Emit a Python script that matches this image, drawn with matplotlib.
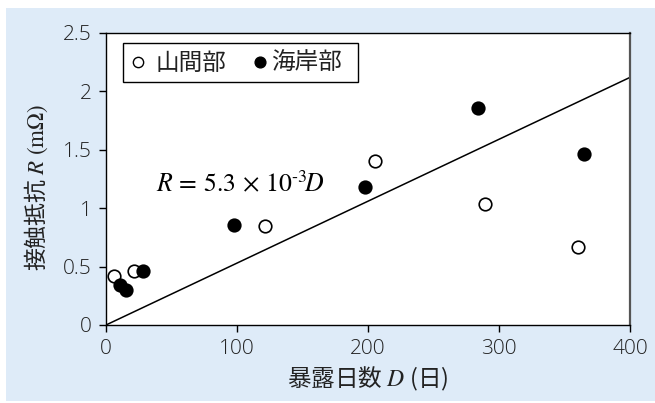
import matplotlib
matplotlib.use("Agg")
import matplotlib.pyplot as plt
from matplotlib.patches import Rectangle

plt.rcParams['mathtext.fontset'] = 'stix'
plt.rcParams['font.family'] = ['Open Sans', 'DejaVu Sans']

# Data
mountain_D = [6, 21, 121, 205, 289, 360]
mountain_R = [0.42, 0.46, 0.85, 1.40, 1.04, 0.67]
coast_D = [11, 15, 28, 98, 198, 284, 365]
coast_R = [0.34, 0.30, 0.46, 0.86, 1.18, 1.86, 1.46]
slope = 5.3e-3
line_D = [0, 400]
xticks = [0, 100, 200, 300, 400]
yticks = [0, 0.5, 1, 1.5, 2, 2.5]
ytick_labels = ["0", "0.5", "1", "1.5", "2", "2.5"]
legend_labels = ["山間部", "海岸部"]

W, H = 655, 403
fig = plt.figure(figsize=(W/100, H/100), dpi=100)
fig.patch.set_facecolor('white')
bg = Rectangle((6/W, 2/H), 1 - 6/W, (H - 8 - 2)/H, transform=fig.transFigure,
               facecolor='#deebf8', edgecolor='none', zorder=-10)
fig.patches.append(bg)

ax = fig.add_axes([106/W, 1 - 325/H, (630-106)/W, (325-33)/H])
ax.set_facecolor('white')

ax.plot(line_D, [slope*d for d in line_D], color='black', lw=1.1, zorder=2)
ax.scatter(mountain_D, mountain_R, s=82, facecolor='white', edgecolor='black', lw=1.2, zorder=3, clip_on=False)
ax.scatter(coast_D, coast_R, s=82, facecolor='black', edgecolor='black', lw=1.2, zorder=3, clip_on=False)

ax.set_xlim(0, 400)
ax.set_ylim(0, 2.5)
ax.set_xticks(xticks)
ax.set_yticks(yticks)
ax.set_yticklabels(ytick_labels)
ax.tick_params(direction='out', length=5, width=1, labelsize=15, labelcolor='#222222', pad=5)
for lab in ax.get_xticklabels() + ax.get_yticklabels():
    lab.set_fontweight('light')
for s in ax.spines.values():
    s.set_linewidth(1.0)
    s.set_color('black')
ax.spines['right'].set_color('#555555')
ax.spines['right'].set_linewidth(1.6)

cjk = ['Noto Sans CJK JP', 'DejaVu Sans']
ax.set_xlabel(r'暴露日数 $D$ (日)', fontsize=17, family=cjk, color='#222222', labelpad=4)
ax.set_ylabel(r'接触抵抗 $R\ (\mathrm{m}\Omega)$', fontsize=16.5, family=cjk, color='#222222')
ax.yaxis.set_label_coords(-0.106, 0.47)

# Legend box
tx = ax.transAxes
def ax_x(px):
    return (px - 106) / 524
def ax_y(py):
    return (325 - py) / 292
ax.add_patch(Rectangle((ax_x(123), ax_y(82)), (358-123)/524, 39/292,
                       transform=tx, facecolor='white', edgecolor='black', lw=1.0, zorder=4))
ax.scatter([ax_x(138)], [ax_y(62)], s=55, transform=tx, facecolor='white', edgecolor='black', lw=1.0, zorder=5, clip_on=False)
ax.scatter([ax_x(260)], [ax_y(62)], s=60, transform=tx, facecolor='black', edgecolor='black', lw=1.0, zorder=5, clip_on=False)
ax.text(ax_x(156), ax_y(63), legend_labels[0], transform=tx, fontsize=17,
        family=cjk, va='center', ha='left', zorder=5, color='#222222')
ax.text(ax_x(271), ax_y(63), legend_labels[1], transform=tx, fontsize=17,
        family=cjk, va='center', ha='left', zorder=5, color='#222222')

ax.text(38, 1.20, r'$R\,=\,5.3\,\times\,10^{\text{-3}}\!D$', fontsize=18.5,
        va='center', ha='left', zorder=5)

fig.savefig('out.png', dpi=100)
